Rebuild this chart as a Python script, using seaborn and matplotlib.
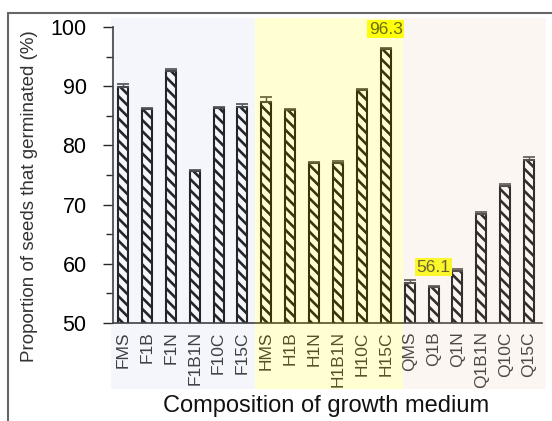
import numpy as np
import pandas as pd
import matplotlib
matplotlib.use('Agg')
import matplotlib.pyplot as plt
import seaborn as sns
from matplotlib.patches import Rectangle
from matplotlib.lines import Line2D

media = ['FMS', 'F1B', 'F1N', 'F1B1N', 'F10C', 'F15C',
         'HMS', 'H1B', 'H1N', 'H1B1N', 'H10C', 'H15C',
         'QMS', 'Q1B', 'Q1N', 'Q1B1N', 'Q10C', 'Q15C']
germ = [89.8, 86.2, 92.6, 75.7, 86.3, 86.5,
        87.4, 86.0, 77.0, 77.0, 89.3, 96.3,
        56.8, 56.1, 58.8, 68.4, 73.2, 77.6]
err = [0.5, 0.2, 0.3, 0.2, 0.2, 0.5,
       0.8, 0.2, 0.2, 0.4, 0.3, 0.2,
       0.4, 0.2, 0.3, 0.3, 0.2, 0.4]
highlight = {'H15C': '96.3', 'Q1B': '56.1'}

df = pd.DataFrame({'medium': media, 'germ': germ, 'err': err})

sns.set_style('ticks')
plt.rcParams['font.family'] = ['Liberation Sans', 'DejaVu Sans']
plt.rcParams['hatch.linewidth'] = 1.9

fig = plt.figure(figsize=(5.52, 4.21), dpi=100)
ax = fig.add_axes([113/552, 1 - 323/421, (542-113)/552, (323-27)/421])
ax.set_facecolor('none')

sns.barplot(data=df, x='medium', y='germ', color='white', edgecolor='black',
            linewidth=1.5, width=0.42, saturation=1, ax=ax)
for p in ax.patches:
    p.set_hatch('\\\\\\')

xs = np.arange(len(media))
ax.errorbar(xs, df['germ'], yerr=[np.zeros(len(err)), df['err']], fmt='none',
            ecolor='#333333', elinewidth=1, capsize=4, capthick=1.2)

for i, m in enumerate(media):
    if m in highlight:
        ax.text(i, germ[i] + 3.3, highlight[m], ha='center', va='center',
                fontsize=12.5, color='#444400',
                bbox=dict(boxstyle='square,pad=0.08', fc='#ffff00', ec='none'))

ax.set_ylim(50, 100)
ax.set_xlim(-0.42, 17.54)
ax.set_yticks([50, 60, 70, 80, 90, 100])
ax.set_yticks([55, 65, 75, 85, 95], minor=True)
ax.tick_params(axis='y', which='major', labelsize=15.5, length=7, width=1,
               pad=12, labelcolor='black')
ax.tick_params(axis='y', which='minor', length=5, width=1)
ax.tick_params(axis='x', length=0, labelsize=12.5, pad=6, labelcolor='#222222')
plt.setp(ax.get_xticklabels(), rotation=90)
sns.despine(ax=ax)
for s in ['left', 'bottom']:
    ax.spines[s].set_linewidth(1.2)
    ax.spines[s].set_color('#222222')

ax.set_xlabel('')
ax.set_ylabel('')
fig.text(30/552, 1 - 196/421, 'Proportion of seeds that germinated (%)',
         rotation=90, ha='center', va='center', fontsize=13.5, color='#333333')
fig.text(326/552, 1 - 406/421, 'Composition of growth medium',
         ha='center', va='center', fontsize=17, color='#111111')

# coloured group panels laid over the plot
top = 1 - 18/421
bot = 1 - 389/421
panels = [(111, 255, '#c3cfee', 0.18),
          (255, 403, '#ffff33', 0.22),
          (403, 546, '#f3dacb', 0.22)]
for x0, x1, c, a in panels:
    fig.add_artist(Rectangle((x0/552, bot), (x1-x0)/552, top - bot,
                             transform=fig.transFigure, fc=c, ec='none',
                             alpha=a, zorder=10))

# frame around the figure
fig.add_artist(Line2D([8/552, 1], [1 - 13/421, 1 - 13/421],
                      transform=fig.transFigure, color='#666666', lw=1.5))
fig.add_artist(Line2D([8/552, 8/552], [0, 1 - 13/421],
                      transform=fig.transFigure, color='#666666', lw=1.5))

fig.savefig('out.png', dpi=100)
